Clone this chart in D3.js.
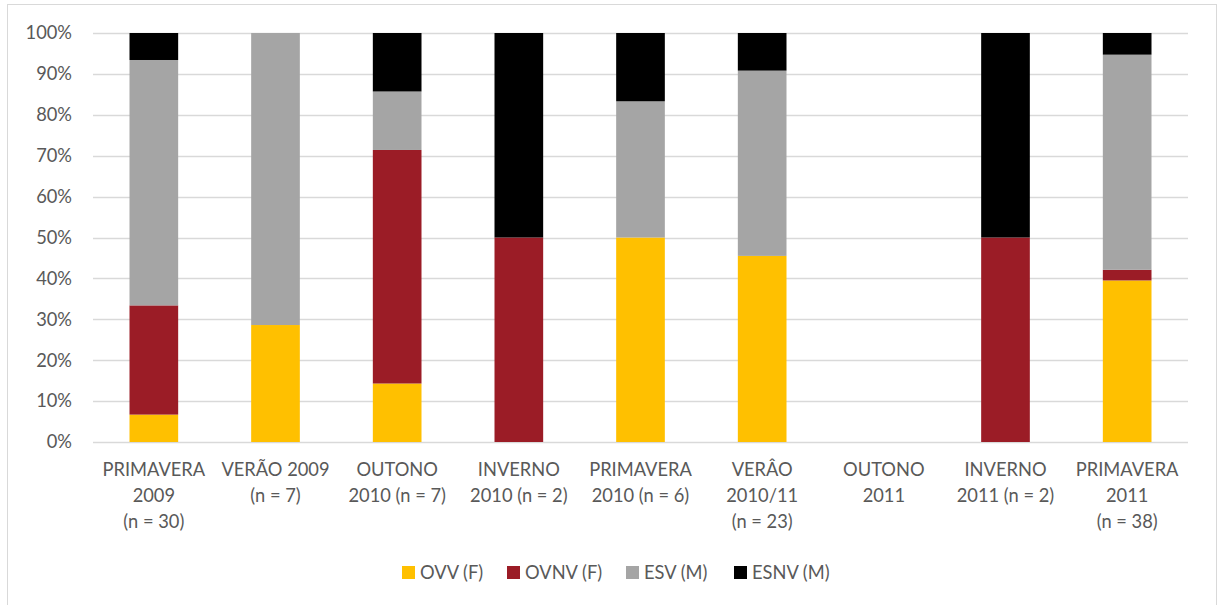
<!DOCTYPE html>
<html>
<head>
<meta charset="utf-8">
<script src="https://cdn.jsdelivr.net/npm/d3@7/dist/d3.min.js"></script>
<style>
  body { margin: 0; background: #fff; }
  text { font-family: "Lato", "Open Sans", sans-serif; fill: #595959; }
</style>
</head>
<body>
<div class="chart"></div>
<script>
// categories (each label split in lines as in the picture)
var categories = [
  ["PRIMAVERA", "2009", "(n = 30)"],
  ["VERÃO 2009", "(n = 7)"],
  ["OUTONO", "2010 (n = 7)"],
  ["INVERNO", "2010 (n = 2)"],
  ["PRIMAVERA", "2010 (n = 6)"],
  ["VERÂO", "2010/11", "(n = 23)"],
  ["OUTONO", "2011"],
  ["INVERNO", "2011 (n = 2)"],
  ["PRIMAVERA", "2011", "(n = 38)"]
];
var seriesNames = ["OVV (F)", "OVNV (F)", "ESV (M)", "ESNV (M)"];
var seriesColors = ["#ffc000", "#9b1c26", "#a5a5a5", "#000000"];

// percentages per category
var ovv  = [6.7, 28.6, 14.3, 0, 50, 45.5, 0, 0, 39.5];
var ovnv = [26.7, 0, 57.1, 50, 0, 0, 0, 50, 2.6];
var esv  = [60, 71.4, 14.3, 0, 33.3, 45.3, 0, 0, 52.6];
var esnv = [6.6, 0, 14.3, 50, 16.7, 9.2, 0, 50, 5.3];
var yTicks = [0, 10, 20, 30, 40, 50, 60, 70, 80, 90, 100];

var W = 1218, H = 605;
var margin = {top: 33, right: 30, bottom: 163, left: 93},
    width = 1188 - margin.left,
    height = 442 - margin.top;
var fontSize = "18.3px";

var svg = d3.select(".chart").append("svg")
    .attr("width", W)
    .attr("height", H);

svg.append("rect")
    .attr("x", 7.5).attr("y", 4.5)
    .attr("width", 1209).attr("height", 610)
    .attr("fill", "#fff")
    .attr("stroke", "#d9d9d9");

var g = svg.append("g")
    .attr("transform", "translate(" + margin.left + "," + margin.top + ")");

var x = d3.scaleBand()
    .domain(d3.range(categories.length))
    .range([0, width])
    .paddingInner(0.6)
    .paddingOuter(0.3);

var y = d3.scaleLinear()
    .domain([0, 100])
    .range([height, 0]);

// gridlines
g.selectAll(".grid")
    .data(yTicks)
    .enter().append("line")
    .attr("x1", 0).attr("x2", width)
    .attr("y1", function(d){ return Math.round(y(d)) + 0.5; })
    .attr("y2", function(d){ return Math.round(y(d)) + 0.5; })
    .attr("stroke", "#d9d9d9")
    .attr("stroke-width", 1.3);

var table = categories.map(function(c, i){
  return {i: i, a: ovv[i], b: ovnv[i], c: esv[i], d: esnv[i]};
});
var stack = d3.stack().keys(["a", "b", "c", "d"]);
var layers = stack(table);

g.selectAll(".layer")
    .data(layers)
    .enter().append("g")
    .attr("fill", function(d, i){ return seriesColors[i]; })
  .selectAll("rect")
    .data(function(d){ return d; })
    .enter().append("rect")
    .attr("x", function(d){ return x(d.data.i); })
    .attr("width", x.bandwidth())
    .attr("y", function(d){ return y(d[1]); })
    .attr("height", function(d){ return y(d[0]) - y(d[1]); });

// y labels
var yAxis = d3.axisLeft(y)
    .tickValues(yTicks)
    .tickFormat(function(d){ return d + "%"; })
    .tickSize(0)
    .tickPadding(21);

g.append("g")
    .call(yAxis)
    .call(function(s){ s.select(".domain").remove(); })
    .selectAll("text")
    .style("font-size", fontSize)
    .style("font-family", "Lato, 'Open Sans', sans-serif")
    .attr("fill", "#595959");

// x labels
var xl = g.selectAll(".xlab")
    .data(categories)
    .enter().append("text")
    .attr("text-anchor", "middle")
    .attr("transform", function(d, i){ return "translate(" + (x(i) + x.bandwidth() / 2) + "," + (height + 34) + ")"; })
    .style("font-size", fontSize);

xl.selectAll("tspan")
    .data(function(d){ return d; })
    .enter().append("tspan")
    .attr("x", 0)
    .attr("dy", function(d, i){ return i == 0 ? 0 : 26; })
    .text(function(d){ return d; });

// legend
var legendX = [402, 507, 626, 734];
var legend = svg.selectAll(".legend")
    .data(seriesNames)
    .enter().append("g")
    .attr("transform", function(d, i){ return "translate(" + legendX[i] + ",566)"; });

legend.append("rect")
    .attr("width", 13).attr("height", 13)
    .attr("fill", function(d, i){ return seriesColors[i]; });

legend.append("text")
    .attr("x", 18).attr("y", 12.5)
    .style("font-size", fontSize)
    .text(function(d){ return d; });
</script>
</body>
</html>
